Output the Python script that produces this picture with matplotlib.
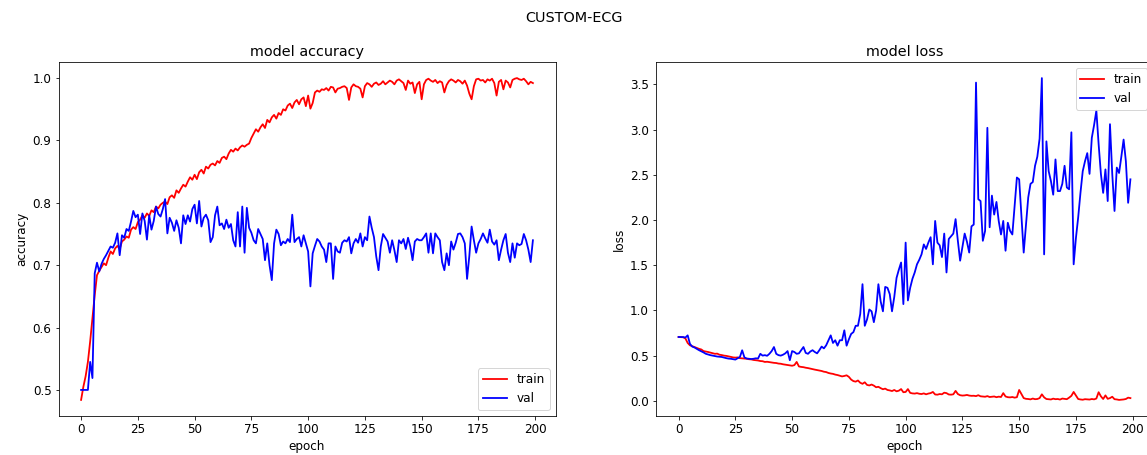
import matplotlib
matplotlib.use("Agg")
import matplotlib.pyplot as plt

# per-epoch history (200 epochs)
acc_train = [
    0.484, 0.505, 0.522, 0.545, 0.578, 0.615, 0.652, 0.684, 0.691, 0.697,
    0.703, 0.700, 0.712, 0.722, 0.718, 0.727, 0.731, 0.726, 0.738, 0.741,
    0.746, 0.744, 0.757, 0.761, 0.758, 0.769, 0.773, 0.780, 0.776, 0.783,
    0.779, 0.788, 0.785, 0.794, 0.791, 0.797, 0.800, 0.802, 0.798, 0.809,
    0.812, 0.808, 0.820, 0.816, 0.823, 0.829, 0.826, 0.834, 0.841, 0.837,
    0.845, 0.838, 0.849, 0.853, 0.847, 0.858, 0.855, 0.861, 0.863, 0.860,
    0.867, 0.864, 0.872, 0.874, 0.870, 0.879, 0.885, 0.882, 0.887, 0.884,
    0.889, 0.892, 0.890, 0.893, 0.895, 0.904, 0.911, 0.918, 0.914, 0.921,
    0.926, 0.920, 0.933, 0.929, 0.937, 0.941, 0.935, 0.944, 0.941, 0.950,
    0.948, 0.956, 0.959, 0.952, 0.961, 0.965, 0.958, 0.966, 0.969, 0.955,
    0.972, 0.951, 0.960, 0.977, 0.980, 0.978, 0.982, 0.981, 0.984, 0.980,
    0.986, 0.985, 0.977, 0.983, 0.984, 0.986, 0.987, 0.984, 0.965, 0.985,
    0.990, 0.987, 0.986, 0.983, 0.969, 0.987, 0.992, 0.990, 0.986, 0.991,
    0.993, 0.989, 0.991, 0.995, 0.990, 0.993, 0.996, 0.994, 0.990, 0.996,
    0.998, 0.995, 0.992, 0.981, 0.996, 0.991, 0.993, 0.976, 0.990, 0.994,
    0.966, 0.990, 0.997, 0.999, 0.996, 0.994, 0.997, 0.992, 0.995, 0.993,
    0.977, 0.989, 0.995, 0.998, 0.996, 0.993, 0.997, 0.995, 0.991, 0.996,
    0.988, 0.975, 0.966, 0.987, 0.998, 0.999, 0.996, 0.997, 0.993, 0.998,
    0.996, 0.999, 0.992, 0.972, 0.994, 0.997, 0.982, 0.996, 0.993, 0.985,
    0.997, 0.999, 1.000, 0.998, 0.997, 0.999, 0.995, 0.990, 0.994, 0.992,
]
acc_val = [
    0.500, 0.500, 0.500, 0.500, 0.545, 0.519, 0.687, 0.704, 0.690, 0.702,
    0.710, 0.716, 0.723, 0.730, 0.728, 0.736, 0.751, 0.716, 0.748, 0.744,
    0.758, 0.755, 0.770, 0.787, 0.777, 0.781, 0.750, 0.783, 0.771, 0.741,
    0.780, 0.757, 0.771, 0.794, 0.782, 0.778, 0.790, 0.806, 0.751, 0.776,
    0.768, 0.755, 0.772, 0.760, 0.735, 0.780, 0.766, 0.780, 0.770, 0.790,
    0.797, 0.767, 0.803, 0.762, 0.776, 0.781, 0.772, 0.737, 0.745, 0.780,
    0.794, 0.764, 0.767, 0.758, 0.773, 0.760, 0.766, 0.740, 0.730, 0.785,
    0.730, 0.794, 0.720, 0.792, 0.760, 0.752, 0.740, 0.735, 0.758, 0.750,
    0.742, 0.708, 0.735, 0.700, 0.676, 0.735, 0.757, 0.750, 0.732, 0.738,
    0.735, 0.742, 0.737, 0.781, 0.737, 0.742, 0.745, 0.730, 0.748, 0.735,
    0.722, 0.666, 0.719, 0.731, 0.742, 0.738, 0.730, 0.725, 0.705, 0.735,
    0.735, 0.678, 0.730, 0.722, 0.720, 0.736, 0.740, 0.738, 0.745, 0.719,
    0.735, 0.742, 0.736, 0.751, 0.730, 0.745, 0.740, 0.778, 0.760, 0.745,
    0.714, 0.692, 0.730, 0.750, 0.744, 0.738, 0.720, 0.740, 0.724, 0.705,
    0.740, 0.735, 0.742, 0.726, 0.744, 0.730, 0.708, 0.738, 0.742, 0.740,
    0.740, 0.745, 0.751, 0.720, 0.751, 0.719, 0.751, 0.745, 0.740, 0.705,
    0.692, 0.719, 0.700, 0.738, 0.725, 0.736, 0.750, 0.751, 0.745, 0.735,
    0.678, 0.715, 0.762, 0.740, 0.720, 0.735, 0.742, 0.751, 0.743, 0.736,
    0.757, 0.738, 0.733, 0.740, 0.708, 0.725, 0.740, 0.750, 0.720, 0.705,
    0.735, 0.712, 0.735, 0.732, 0.734, 0.750, 0.740, 0.725, 0.705, 0.740,
]
loss_train = [
    0.706, 0.705, 0.703, 0.690, 0.640, 0.614, 0.605, 0.595, 0.585, 0.575,
    0.568, 0.550, 0.545, 0.540, 0.533, 0.525, 0.520, 0.522, 0.510, 0.506,
    0.500, 0.497, 0.492, 0.486, 0.480, 0.478, 0.480, 0.472, 0.470, 0.467,
    0.465, 0.460, 0.458, 0.452, 0.449, 0.446, 0.440, 0.438, 0.430, 0.432,
    0.428, 0.425, 0.420, 0.418, 0.412, 0.410, 0.404, 0.400, 0.396, 0.392,
    0.388, 0.395, 0.430, 0.380, 0.375, 0.372, 0.366, 0.362, 0.356, 0.350,
    0.345, 0.340, 0.335, 0.330, 0.322, 0.318, 0.308, 0.302, 0.298, 0.290,
    0.285, 0.278, 0.270, 0.275, 0.282, 0.265, 0.235, 0.218, 0.212, 0.225,
    0.200, 0.188, 0.205, 0.176, 0.170, 0.180, 0.168, 0.150, 0.155, 0.140,
    0.128, 0.135, 0.120, 0.115, 0.108, 0.120, 0.105, 0.112, 0.130, 0.095,
    0.098, 0.130, 0.088, 0.082, 0.080, 0.085, 0.078, 0.075, 0.082, 0.072,
    0.080, 0.085, 0.098, 0.070, 0.068, 0.075, 0.072, 0.090, 0.085, 0.070,
    0.068, 0.072, 0.110, 0.075, 0.062, 0.058, 0.060, 0.065, 0.058, 0.055,
    0.056, 0.052, 0.062, 0.050, 0.048, 0.045, 0.052, 0.042, 0.045, 0.048,
    0.040, 0.046, 0.042, 0.085, 0.048, 0.040, 0.038, 0.042, 0.035, 0.040,
    0.120, 0.075, 0.030, 0.022, 0.020, 0.016, 0.025, 0.018, 0.020, 0.030,
    0.072, 0.038, 0.020, 0.018, 0.015, 0.024, 0.018, 0.020, 0.014, 0.025,
    0.022, 0.018, 0.035, 0.055, 0.098, 0.058, 0.020, 0.015, 0.012, 0.018,
    0.016, 0.014, 0.020, 0.016, 0.025, 0.095, 0.050, 0.020, 0.060, 0.022,
    0.030, 0.045, 0.018, 0.015, 0.010, 0.012, 0.015, 0.020, 0.035, 0.030,
]
loss_val = [
    0.706, 0.706, 0.705, 0.700, 0.724, 0.630, 0.600, 0.590, 0.575, 0.560,
    0.548, 0.535, 0.520, 0.512, 0.505, 0.500, 0.495, 0.490, 0.487, 0.485,
    0.478, 0.472, 0.467, 0.465, 0.460, 0.456, 0.470, 0.485, 0.559, 0.480,
    0.468, 0.465, 0.462, 0.465, 0.470, 0.468, 0.520, 0.500, 0.505, 0.498,
    0.520, 0.550, 0.595, 0.520, 0.505, 0.500, 0.510, 0.525, 0.550, 0.449,
    0.550, 0.540, 0.520, 0.525, 0.560, 0.595, 0.530, 0.520, 0.545, 0.560,
    0.540, 0.525, 0.560, 0.600, 0.580, 0.614, 0.670, 0.724, 0.640, 0.670,
    0.610, 0.670, 0.670, 0.780, 0.610, 0.680, 0.740, 0.760, 0.830, 0.830,
    0.960, 1.290, 0.830, 0.900, 1.010, 0.990, 0.870, 1.000, 1.290, 1.100,
    0.990, 1.260, 1.250, 1.180, 0.990, 1.150, 1.360, 1.450, 1.530, 1.070,
    1.750, 1.110, 1.250, 1.350, 1.420, 1.510, 1.560, 1.620, 1.730, 1.680,
    1.750, 1.810, 1.510, 1.990, 1.750, 1.720, 1.590, 1.850, 1.420, 1.790,
    1.820, 1.850, 2.010, 1.770, 1.550, 1.700, 1.850, 1.760, 1.640, 1.930,
    1.950, 3.520, 2.230, 2.210, 1.770, 1.880, 3.020, 1.920, 2.270, 2.060,
    2.200, 1.990, 1.840, 1.990, 1.660, 1.970, 1.880, 1.840, 2.150, 2.470,
    2.450, 2.050, 1.640, 1.950, 2.250, 2.400, 2.420, 2.600, 2.700, 2.900,
    3.570, 1.620, 2.870, 2.540, 2.430, 2.280, 2.670, 2.320, 2.320, 2.400,
    2.600, 2.360, 2.340, 2.970, 1.510, 1.800, 2.030, 2.300, 2.540, 2.650,
    2.740, 2.510, 2.910, 3.050, 3.210, 2.840, 2.510, 2.300, 2.560, 2.210,
    3.060, 2.510, 2.100, 2.580, 2.520, 2.700, 2.890, 2.650, 2.190, 2.450,
]

plt.rcParams["font.size"] = 12
plt.rcParams["lines.linewidth"] = 1.8

fig = plt.figure(figsize=(1147 / 72, 455 / 72), dpi=72)
fig.suptitle("CUSTOM-ECG", y=0.975)

# left: accuracy
ax1 = fig.add_axes([58.5 / 1147, 1 - 416 / 455, 497 / 1147, 354 / 455])
ax1.plot(acc_train, color="red", label="train")
ax1.plot(acc_val, color="blue", label="val")
ax1.set_title("model accuracy")
ax1.set_ylabel("accuracy")
ax1.set_xlabel("epoch")
ax1.legend(loc="lower right")

# right: loss (axes runs slightly past the image edge, as in the original)
ax2 = fig.add_axes([656 / 1147, 1 - 416 / 455, 497 / 1147, 354 / 455])
ax2.plot(loss_train, color="red", label="train")
ax2.plot(loss_val, color="blue", label="val")
ax2.set_title("model loss")
ax2.set_ylabel("loss")
ax2.set_xlabel("epoch")
ax2.legend(loc="upper right")

fig.savefig("out.png", dpi=72)
